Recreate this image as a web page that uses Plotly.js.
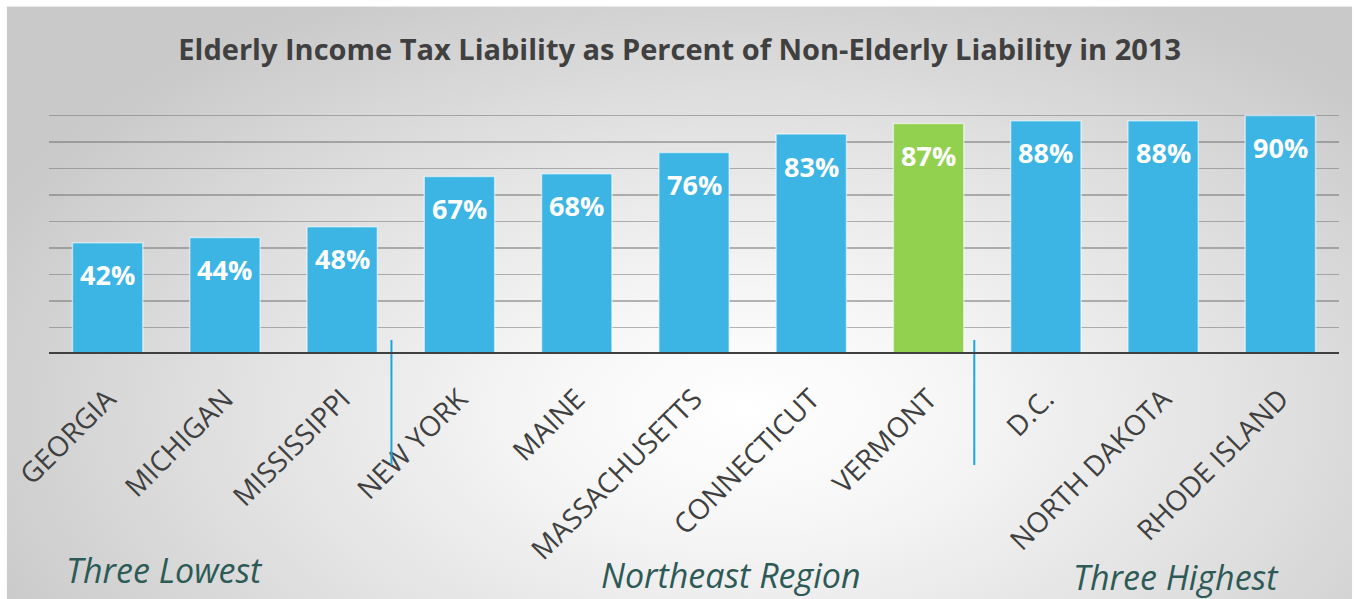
<!DOCTYPE html>
<html>
<head>
<meta charset="utf-8">
<script src="https://cdn.plot.ly/plotly-3.0.1.min.js"></script>
<style>
  html, body { margin: 0; padding: 0; background: #ffffff; }
  #wrap { position: relative; width: 1354px; height: 599px; overflow: hidden; }
  #bg { position: absolute; left: 7px; top: 7px; right: 2px; bottom: 0;
        background: radial-gradient(ellipse 62% 80% at 55% 68%, #ffffff 0%, #f6f6f6 25%, #e2e2e2 60%, #c9c9c9 100%);
        box-shadow: 0 -1px 1px rgba(0,0,0,0.08); }
  #chart { position: absolute; left: 0; top: 0; width: 1354px; height: 599px; }
</style>
</head>
<body>
<div id="wrap">
  <div id="bg"></div>
  <div id="chart"></div>
</div>
<script>
// ---- data ----
const states = ["GEORGIA", "MICHIGAN", "MISSISSIPPI", "NEW YORK", "MAINE", "MASSACHUSETTS",
                "CONNECTICUT", "VERMONT", "D.C.", "NORTH DAKOTA", "RHODE ISLAND"];
const percents = [42, 44, 48, 67, 68, 76, 83, 87, 88, 88, 90];
const highlightState = "VERMONT";
const groupLabels = ["Three Lowest", "Northeast Region", "Three Highest"];
const chartTitle = "Elderly Income Tax Liability as Percent of Non-Elderly Liability in 2013";

// ---- styles ----
const blue = "#3cb5e5";
const green = "#92d050";
const barColors = states.map(s => s === highlightState ? green : blue);

const trace = {
  type: "bar",
  x: states,
  y: percents,
  marker: { color: barColors, line: { color: "rgba(255,255,255,0.55)", width: 1.5 } },
  hoverinfo: "x+y"
};

const valueAnnotations = states.map((s, i) => ({
  x: s, y: percents[i], xref: "x", yref: "y",
  text: percents[i] + "%", showarrow: false,
  yanchor: "middle", yshift: -32,
  font: { family: "Open Sans", size: 27, color: "#ffffff", weight: "bold" }
}));

const groupPos = [ [0.0895, -0.815], [0.528, -0.835], [0.874, -0.84] ];
const groupAnnotations = groupLabels.map((g, i) => ({
  x: groupPos[i][0], y: groupPos[i][1], xref: "paper", yref: "paper",
  text: "<i>" + g + "</i>", showarrow: false, xanchor: "center", yanchor: "middle",
  font: { family: "Open Sans", size: 34, color: "#2d5a56" }
}));

const sepX = [2.42, 7.39];
const shapes = sepX.map(x => ({
  type: "line", xref: "x", yref: "paper", x0: x, x1: x, y0: 0.053, y1: -0.419,
  line: { color: "#1aa7e0", width: 2 }
}));
shapes.push({
  type: "line", xref: "paper", yref: "y", x0: 0, x1: 1, y0: 0, y1: 0,
  line: { color: "#404040", width: 4 }, layer: "above"
});

const layout = {
  width: 1354, height: 599,
  margin: { l: 49, r: 15, t: 89, b: 245 },
  paper_bgcolor: "rgba(0,0,0,0)",
  plot_bgcolor: "rgba(0,0,0,0)",
  title: {
    text: chartTitle, x: 0.502, xanchor: "center", y: 0.9165, yanchor: "middle",
    font: { family: "Open Sans", size: 29, color: "#404040", weight: "bold" }
  },
  bargap: 0.4,
  showlegend: false,
  xaxis: {
    type: "category",
    tickangle: -45,
    tickfont: { family: "Open Sans", size: 28, color: "#404040" },
    ticks: "", showline: false, showgrid: false, zeroline: false,
    ticklabelstandoff: 22,
    fixedrange: true
  },
  yaxis: {
    range: [0, 100], dtick: 10, showticklabels: false, ticks: "",
    showgrid: true, gridcolor: "rgba(110,110,110,0.5)", gridwidth: 1.5,
    zeroline: false, showline: false, fixedrange: true
  },
  annotations: valueAnnotations.concat(groupAnnotations),
  shapes: shapes
};

Plotly.newPlot("chart", [trace], layout, { displayModeBar: false, staticPlot: true });
</script>
</body>
</html>
